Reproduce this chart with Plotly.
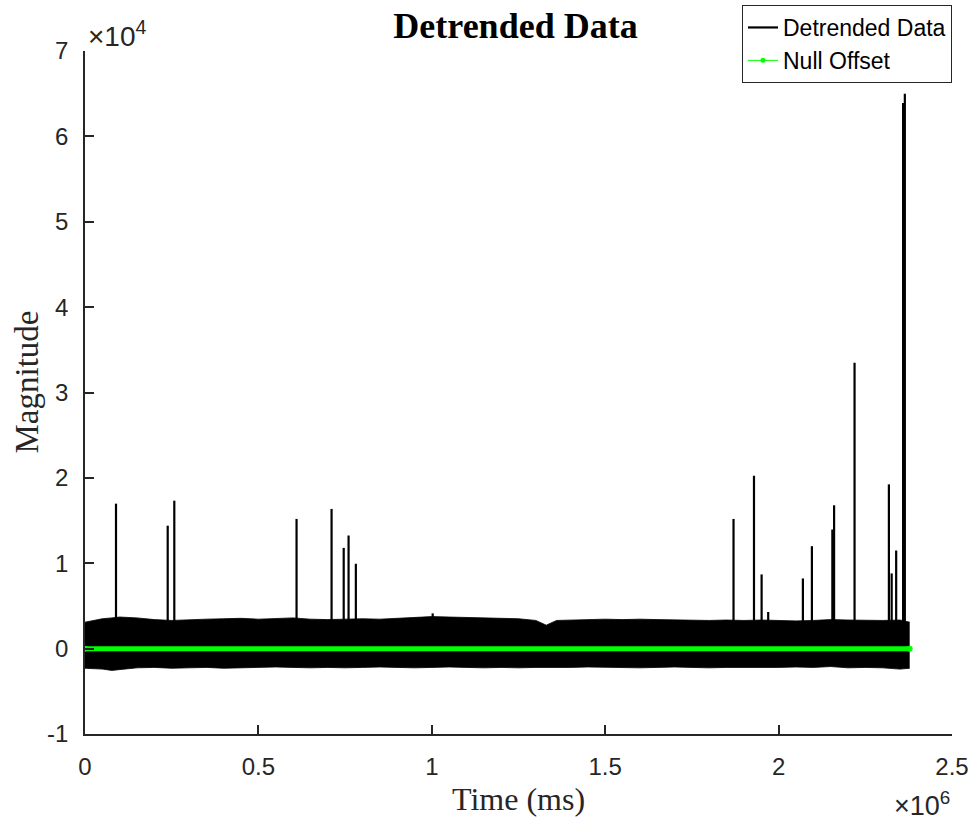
import plotly.graph_objects as go

# ---------------- data ----------------
# envelope of the dense noise band (x in ms, magnitude)
band_x = [0.0, 0.05, 0.077, 0.10, 0.15, 0.20, 0.25, 0.30, 0.35, 0.40, 0.45, 0.50,
          0.55, 0.60, 0.65, 0.70, 0.75, 0.80, 0.85, 0.90, 0.95, 1.00, 1.05, 1.10,
          1.15, 1.20, 1.25, 1.30, 1.33, 1.36, 1.40, 1.45, 1.50, 1.55, 1.60, 1.65,
          1.70, 1.75, 1.80, 1.85, 1.90, 1.95, 2.00, 2.05, 2.10, 2.15, 2.20, 2.25,
          2.30, 2.35, 2.378]
band_x = [v * 1e6 for v in band_x]
band_upper = [3100, 3500, 3600, 3700, 3600, 3400, 3300, 3400, 3450, 3500, 3550, 3450,
              3500, 3600, 3450, 3400, 3450, 3500, 3450, 3550, 3650, 3750, 3700, 3650,
              3600, 3550, 3500, 3300, 2750, 3300, 3350, 3400, 3450, 3400, 3450, 3400,
              3350, 3300, 3300, 3350, 3300, 3350, 3300, 3250, 3300, 3400, 3350, 3300,
              3300, 3350, 3100]
band_lower = [-2300, -2400, -2550, -2450, -2250, -2200, -2300, -2250, -2200, -2300, -2250, -2200,
              -2150, -2200, -2250, -2200, -2250, -2200, -2150, -2200, -2250, -2200, -2150, -2200,
              -2250, -2200, -2250, -2200, -2200, -2250, -2200, -2150, -2200, -2200, -2250, -2200,
              -2150, -2200, -2250, -2200, -2200, -2250, -2200, -2150, -2200, -2100, -2250, -2200,
              -2250, -2400, -2300]

# isolated spikes: time (ms) and peak magnitude
spike_x = [0.0894, 0.2385, 0.2575, 0.610, 0.711, 0.746, 0.760, 0.781, 1.0025,
           1.870, 1.929, 1.951, 1.970, 2.070, 2.096, 2.155, 2.160, 2.219,
           2.318, 2.326, 2.339, 2.359, 2.364]
spike_x = [v * 1e6 for v in spike_x]
spike_peak = [16980, 14400, 17330, 15190, 16360, 11800, 13250, 9940, 4130,
              15190, 20250, 8690, 4290, 8220, 12000, 13950, 16790, 33490,
              19240, 8810, 11490, 63900, 65000]

null_x = [0.0, 2.378e6]
null_y = [0.0, 0.0]

x_tick_vals = [0, 0.5e6, 1.0e6, 1.5e6, 2.0e6, 2.5e6]
x_tick_text = ["0", "0.5", "1", "1.5", "2", "2.5"]
y_tick_vals = [-1e4, 0, 1e4, 2e4, 3e4, 4e4, 5e4, 6e4, 7e4]
y_tick_text = ["-1", "0", "1", "2", "3", "4", "5", "6", "7"]

# ---------------- figure ----------------
AX = "#262626"
fig = go.Figure()

# noise band (filled envelope)
fig.add_trace(go.Scatter(x=band_x, y=band_upper, mode="lines",
                         line=dict(color="black", width=0.8),
                         showlegend=False, hoverinfo="skip"))
fig.add_trace(go.Scatter(x=band_x, y=band_lower, mode="lines",
                         line=dict(color="black", width=0.8),
                         fill="tonexty", fillcolor="black",
                         showlegend=False, hoverinfo="skip"))

# spikes
sx, sy = [], []
for xv, pv in zip(spike_x, spike_peak):
    sx += [xv, xv, None]
    sy += [0, pv, None]
fig.add_trace(go.Scatter(x=sx, y=sy, mode="lines", name="Detrended Data",
                         line=dict(color="black", width=2.2)))

# null offset (thick visual line)
fig.add_trace(go.Scatter(x=null_x, y=null_y, mode="lines+markers",
                         line=dict(color="#00ff00", width=5),
                         marker=dict(color="#00ff00", size=6),
                         showlegend=False, hoverinfo="skip"))
# legend entry for null offset
fig.add_trace(go.Scatter(x=[None], y=[None], mode="lines+markers", name="Null Offset",
                         line=dict(color="#00ff00", width=1),
                         marker=dict(color="#00ff00", size=5)))

W, H = 974, 822
ML, MR, MT, MB = 85, 22, 50.5, 87.5
PH = H - MT - MB
PW = W - ML - MR

fig.update_layout(
    width=W, height=H,
    margin=dict(l=ML, r=MR, t=MT, b=MB, pad=0, autoexpand=False),
    paper_bgcolor="white", plot_bgcolor="white",
    font=dict(family="Liberation Sans, Arial", color=AX),
    title=dict(text="<b>Detrended Data</b>", x=(ML + PW / 2 - 3) / W, xanchor="center",
               y=1 - 25 / H, yanchor="middle",
               font=dict(family="Liberation Serif, Times New Roman", size=36, color="black")),
    legend=dict(xref="container", yref="container",
                x=952 / W, xanchor="right", y=1 - 5 / H, yanchor="top",
                traceorder="normal",
                bgcolor="white", bordercolor=AX, borderwidth=1,
                font=dict(family="Liberation Sans, Arial", size=23, color="black"),
                tracegroupgap=0, itemwidth=30),
    xaxis=dict(range=[0, 2.5e6], tickvals=x_tick_vals, ticktext=x_tick_text,
               showgrid=False, zeroline=False, showline=True, linecolor=AX, linewidth=1.5,
               ticks="inside", ticklen=9, tickcolor=AX, tickwidth=1.5,
               tickfont=dict(size=24, color=AX), ticklabelstandoff=10),
    yaxis=dict(range=[-1e4, 7e4], tickvals=y_tick_vals, ticktext=y_tick_text,
               showgrid=False, zeroline=False, showline=True, linecolor=AX, linewidth=1.5,
               ticks="inside", ticklen=9, tickcolor=AX, tickwidth=1.5,
               tickfont=dict(size=24, color=AX), ticklabelstandoff=10),
    showlegend=True,
)

fig.add_annotation(text="Time (ms)", xref="paper", yref="paper", x=0.5, y=0,
                   xanchor="center", yanchor="middle", yshift=-65, showarrow=False,
                   font=dict(family="Liberation Serif, Times New Roman", size=32, color=AX))
fig.add_annotation(text="Magnitude", xref="paper", yref="paper", x=0, y=0.5,
                   xanchor="center", yanchor="middle", xshift=-59, yshift=10, textangle=-90,
                   showarrow=False,
                   font=dict(family="Liberation Serif, Times New Roman", size=33, color=AX))
fig.add_annotation(text="×10<sup>4</sup>", xref="paper", yref="paper", x=0, y=1,
                   xanchor="left", yanchor="middle", xshift=1, yshift=17, showarrow=False,
                   font=dict(size=28, color=AX))
fig.add_annotation(text="×10<sup>6</sup>", xref="paper", yref="paper", x=1, y=0,
                   xanchor="right", yanchor="middle", xshift=0, yshift=-70, showarrow=False,
                   font=dict(size=27, color=AX))

fig.write_html("out.html")
